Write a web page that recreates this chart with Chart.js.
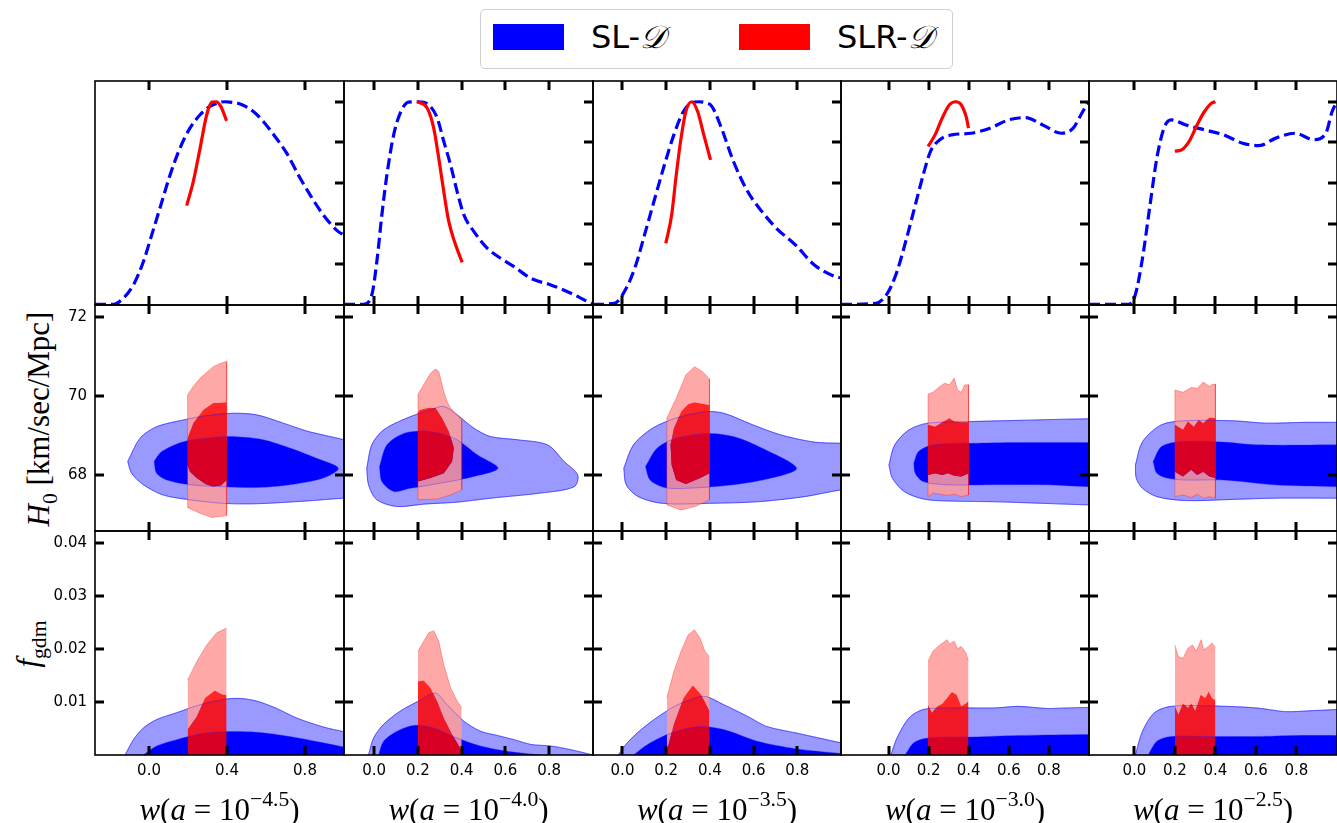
<!DOCTYPE html>
<html>
<head>
<meta charset="utf-8">
<script src="https://cdn.jsdelivr.net/npm/chart.js@4.4.1/dist/chart.umd.min.js"></script>
<style>
  html, body { margin: 0; padding: 0; background: #fff; }
  body { position: relative; width: 1337px; height: 823px; overflow: hidden; font-family: 'DejaVu Sans', sans-serif; }
  canvas { position: absolute; }
  .legend { position: absolute; left: 480px; top: 9px; width: 473px; height: 60px; box-sizing: border-box;
            border: 1.5px solid #cfcfcf; border-radius: 5px; background: #fff; }
  .legend .sw { position: absolute; top: 14px; width: 71px; height: 26px; }
  .legend .tx { position: absolute; top: 7px; font-size: 32px; line-height: 40px; color: #000; white-space: nowrap; }
  .mathD { font-family: 'DejaVu Serif', serif; font-style: italic; }
  .xt { position: absolute; top: 784px; transform: translateX(-50%); font-family: 'Liberation Serif', serif;
        font-size: 31px; line-height: 36px; white-space: nowrap; color: #000; }
  .xt sup { font-size: 0.7em; position: relative; top: -0.12em; }
  .yt { position: absolute; font-family: 'Liberation Serif', serif; font-size: 31px; white-space: nowrap; color: #000;
        transform: translate(-50%, -50%) rotate(-90deg); }
  .yt sub { font-size: 0.7em; }
</style>
</head>
<body>
<div class="legend">
  <div class="sw" style="left:12px;background:#0000ff"></div>
  <div class="tx" style="left:110px">SL-<span class="mathD">𝒟</span></div>
  <div class="sw" style="left:258px;background:#ff0000"></div>
  <div class="tx" style="left:356px">SLR-<span class="mathD">𝒟</span></div>
</div>
<div class="yt" style="left:42px;top:419px"><i>H</i><sub>0</sub> [km/sec/Mpc]</div>
<div class="yt" style="left:31px;top:644px"><i>f</i><sub>gdm</sub></div>

<script>
// axis limits and ticks, one entry per column
const X_MIN = [-0.277, -0.138, -0.135, -0.237, -0.224];
const X_MAX = 1.0;
const X_TICKS = [
  [0, 0.4, 0.8],
  [0, 0.2, 0.4, 0.6, 0.8],
  [0, 0.2, 0.4, 0.6, 0.8],
  [0, 0.2, 0.4, 0.6, 0.8],
  [0, 0.2, 0.4, 0.6, 0.8]
];
const A_EXP = ['−4.5', '−4.0', '−3.5', '−3.0', '−2.5'];

const PDF_RANGE = [0, 1.102];
const PDF_TICKS = [0.2, 0.4, 0.6, 0.8, 1.0];
const H0_RANGE = [66.58, 72.30];
const H0_TICKS = [68, 70, 72];
const F_RANGE = [0, 0.04236];
const F_TICKS = [0.01, 0.02, 0.03, 0.04];

// 1D posteriors (top row)
const SL_PDF = [
  [[-0.277,0.003],[-0.183,0.003],[-0.132,0.033],[-0.080,0.099],[-0.029,0.213],[0.014,0.345],[0.056,0.476],[0.108,0.640],[0.159,0.772],[0.210,0.870],[0.262,0.936],[0.313,0.977],[0.364,0.997],[0.39,1.0],[0.415,0.998],[0.467,0.989],[0.535,0.952],[0.586,0.903],[0.646,0.829],[0.706,0.747],[0.766,0.640],[0.826,0.542],[0.894,0.443],[0.971,0.361],[1.0,0.345]],
  [[-0.138,0.003],[-0.049,0.003],[-0.011,0.049],[0.012,0.213],[0.035,0.443],[0.058,0.640],[0.089,0.837],[0.119,0.944],[0.157,0.998],[0.203,1.0],[0.249,0.985],[0.288,0.920],[0.318,0.805],[0.349,0.690],[0.379,0.558],[0.410,0.443],[0.456,0.361],[0.517,0.279],[0.578,0.230],[0.639,0.189],[0.716,0.131],[0.807,0.099],[0.899,0.058],[1.0,0.003]],
  [[-0.135,0.003],[-0.037,0.008],[0.017,0.082],[0.061,0.197],[0.105,0.361],[0.148,0.525],[0.192,0.690],[0.235,0.837],[0.279,0.952],[0.322,0.997],[0.35,1.0],[0.38,0.995],[0.409,0.977],[0.453,0.870],[0.508,0.706],[0.573,0.558],[0.638,0.460],[0.704,0.378],[0.791,0.296],[0.878,0.197],[0.976,0.139],[1.0,0.134]],
  [[-0.237,0.003],[-0.064,0.008],[-0.005,0.058],[0.042,0.164],[0.090,0.328],[0.138,0.509],[0.173,0.640],[0.209,0.755],[0.256,0.813],[0.316,0.837],[0.411,0.845],[0.506,0.870],[0.600,0.911],[0.684,0.922],[0.767,0.887],[0.862,0.845],[0.921,0.870],[0.969,0.952],[1.0,1.0]],
  [[-0.224,0.003],[-0.031,0.003],[0.004,0.049],[0.040,0.230],[0.075,0.476],[0.111,0.723],[0.146,0.870],[0.181,0.911],[0.251,0.887],[0.346,0.862],[0.440,0.837],[0.534,0.796],[0.616,0.784],[0.698,0.821],[0.793,0.845],[0.886,0.813],[0.945,0.845],[0.976,0.952],[1.0,1.0]]
];
const SLR_PDF = [
  [[0.193,0.489],[0.227,0.607],[0.262,0.772],[0.296,0.936],[0.322,0.998],[0.344,1.0],[0.368,0.977],[0.398,0.906]],
  [[0.196,1.0],[0.242,0.969],[0.272,0.870],[0.295,0.723],[0.318,0.558],[0.341,0.410],[0.372,0.296],[0.402,0.210]],
  [[0.198,0.303],[0.225,0.443],[0.246,0.640],[0.268,0.821],[0.290,0.952],[0.316,1.0],[0.344,0.952],[0.372,0.837],[0.403,0.714]],
  [[0.197,0.780],[0.232,0.837],[0.268,0.920],[0.304,0.985],[0.335,1.0],[0.363,0.985],[0.387,0.928],[0.399,0.870]],
  [[0.200,0.755],[0.240,0.768],[0.275,0.813],[0.310,0.887],[0.346,0.952],[0.381,0.993],[0.400,1.0]]
];

// H0 contours (middle row), closed outlines
const SL_H0_95 = [
  [[-0.109,68.34],[-0.046,68.93],[0.039,69.22],[0.176,69.39],[0.296,69.50],[0.432,69.56],[0.552,69.52],[0.689,69.31],[0.809,69.11],[0.894,69.01],[1.0,68.89],[1.03,68.85],[1.03,67.40],[1.0,67.41],[0.809,67.34],[0.552,67.27],[0.381,67.28],[0.210,67.37],[0.073,67.49],[-0.029,67.75],[-0.089,68.04],[-0.109,68.34]],
  [[-0.034,68.17],[-0.011,68.76],[0.043,69.14],[0.150,69.44],[0.257,69.65],[0.318,69.73],[0.379,69.52],[0.456,69.18],[0.532,68.97],[0.654,68.89],[0.792,68.76],[0.868,68.34],[0.930,68.0],[0.914,67.70],[0.761,67.54],[0.532,67.41],[0.379,67.31],[0.226,67.26],[0.104,67.20],[0.012,67.37],[-0.026,67.75],[-0.034,68.17]],
  [[0.006,68.17],[0.050,68.76],[0.137,69.18],[0.246,69.44],[0.377,69.60],[0.464,69.56],[0.595,69.27],[0.726,69.01],[0.878,68.83],[1.0,68.80],[1.03,68.80],[1.03,67.60],[1.0,67.62],[0.834,67.45],[0.617,67.32],[0.398,67.28],[0.181,67.28],[0.072,67.45],[0.017,67.75],[0.006,68.17]],
  [[0.002,68.25],[0.031,68.76],[0.102,69.14],[0.197,69.31],[0.411,69.35],[0.648,69.38],[0.886,69.41],[1.0,69.42],[1.03,69.42],[1.03,67.24],[1.0,67.24],[0.767,67.28],[0.530,67.32],[0.292,67.34],[0.173,67.39],[0.078,67.58],[0.019,67.92],[0.002,68.25]],
  [[0.005,68.25],[0.040,68.84],[0.134,69.27],[0.251,69.37],[0.487,69.37],[0.651,69.31],[0.840,69.33],[1.0,69.33],[1.03,69.33],[1.03,67.41],[1.0,67.41],[0.687,67.41],[0.487,67.38],[0.251,67.35],[0.111,67.45],[0.040,67.66],[0.009,67.92],[0.005,68.25]]
];
const SL_H0_68 = [
  [[0.026,68.34],[0.065,68.59],[0.176,68.84],[0.313,68.94],[0.432,68.97],[0.586,68.89],[0.723,68.68],[0.860,68.42],[0.971,68.17],[0.894,67.92],[0.723,67.75],[0.552,67.68],[0.381,67.70],[0.210,67.75],[0.091,67.87],[0.039,68.04],[0.026,68.34]],
  [[0.024,68.21],[0.058,68.76],[0.135,69.05],[0.226,69.11],[0.303,69.05],[0.379,68.89],[0.471,68.51],[0.566,68.17],[0.456,67.96],[0.303,67.79],[0.165,67.66],[0.089,67.58],[0.035,67.83],[0.024,68.21]],
  [[0.105,68.21],[0.159,68.68],[0.246,68.93],[0.398,69.05],[0.508,68.97],[0.638,68.68],[0.797,68.17],[0.682,67.92],[0.508,67.75],[0.290,67.66],[0.192,67.68],[0.126,67.87],[0.105,68.21]],
  [[0.126,68.30],[0.150,68.59],[0.221,68.76],[0.411,68.80],[0.648,68.82],[1.0,68.82],[1.03,68.82],[1.03,67.70],[1.0,67.70],[0.767,67.75],[0.530,67.75],[0.292,67.75],[0.173,67.83],[0.133,68.04],[0.126,68.30]],
  [[0.092,68.34],[0.134,68.72],[0.228,68.84],[0.440,68.83],[0.604,68.76],[1.0,68.76],[1.03,68.76],[1.03,67.70],[1.0,67.70],[0.687,67.75],[0.440,67.87],[0.251,67.87],[0.160,67.92],[0.111,68.04],[0.092,68.34]]
];
const SLR_H0_95 = [
  [[0.198,70.03],[0.227,70.24],[0.262,70.45],[0.330,70.74],[0.364,70.82],[0.398,70.87],[0.398,66.97],[0.322,66.92],[0.262,67.03],[0.198,67.17],[0.198,70.03]],
  [[0.200,70.04],[0.226,70.28],[0.257,70.57],[0.280,70.68],[0.295,70.62],[0.303,70.45],[0.318,70.11],[0.333,69.86],[0.349,69.69],[0.379,69.52],[0.400,69.39],[0.400,67.62],[0.349,67.49],[0.287,67.39],[0.200,67.37],[0.200,70.04]],
  [[0.203,69.44],[0.246,69.94],[0.290,70.53],[0.329,70.74],[0.366,70.62],[0.398,70.43],[0.398,67.37],[0.333,67.20],[0.268,67.11],[0.203,67.24],[0.203,69.44]],
  [[0.197,70.04],[0.221,70.09],[0.256,70.24],[0.280,70.32],[0.304,70.28],[0.328,70.45],[0.344,70.15],[0.363,70.09],[0.380,70.28],[0.399,70.28],[0.399,67.49],[0.363,67.45],[0.328,67.51],[0.292,67.48],[0.256,67.51],[0.221,67.54],[0.197,67.45],[0.197,70.04]],
  [[0.200,70.15],[0.240,70.09],[0.280,70.21],[0.310,70.19],[0.340,70.35],[0.370,70.24],[0.381,70.28],[0.400,70.30],[0.400,67.41],[0.370,67.45],[0.340,67.41],[0.310,67.51],[0.280,67.43],[0.240,67.49],[0.200,67.45],[0.200,70.15]]
];
const SLR_H0_68 = [
  [[0.198,68.93],[0.227,69.31],[0.279,69.65],[0.330,69.82],[0.398,69.83],[0.398,67.87],[0.370,67.74],[0.330,67.70],[0.290,67.77],[0.245,67.92],[0.210,68.08],[0.198,68.25],[0.198,68.93]],
  [[0.200,69.60],[0.211,69.65],[0.249,69.70],[0.280,69.69],[0.310,69.44],[0.341,69.10],[0.364,68.68],[0.356,68.34],[0.318,68.04],[0.257,67.92],[0.200,67.83],[0.200,69.60]],
  [[0.329,69.84],[0.398,69.77],[0.398,68.04],[0.355,67.92],[0.290,67.77],[0.246,67.87],[0.225,68.25],[0.220,68.76],[0.235,69.18],[0.268,69.60],[0.300,69.79],[0.329,69.84]],
  [[0.197,69.27],[0.232,69.22],[0.268,69.33],[0.304,69.44],[0.328,69.35],[0.363,69.33],[0.399,69.33],[0.399,68.04],[0.363,67.96],[0.328,67.98],[0.297,68.04],[0.268,68.0],[0.232,68.04],[0.197,68.0],[0.197,69.27]],
  [[0.200,69.27],[0.240,69.14],[0.264,69.35],[0.293,69.22],[0.317,69.39],[0.340,69.31],[0.370,69.45],[0.400,69.44],[0.400,67.92],[0.370,67.96],[0.340,68.08],[0.310,68.0],[0.280,68.13],[0.240,67.96],[0.200,68.08],[0.200,69.27]]
];

// f_gdm upper edges (bottom row)
const SL_F_95 = [
  [[-0.123,0],[-0.080,0.0029],[-0.029,0.0051],[0.039,0.0067],[0.142,0.0080],[0.262,0.0095],[0.381,0.0105],[0.467,0.0107],[0.552,0.0102],[0.655,0.0088],[0.757,0.0070],[0.894,0.0053],[1.0,0.0044]],
  [[-0.026,0],[-0.003,0.0032],[0.043,0.0058],[0.119,0.0083],[0.203,0.0102],[0.280,0.0117],[0.333,0.0095],[0.410,0.0064],[0.486,0.0045],[0.563,0.0037],[0.639,0.0029],[0.716,0.0020],[0.807,0.0017],[0.899,0.0010],[1.0,0]],
  [[-0.020,0],[0.028,0.0026],[0.115,0.0058],[0.225,0.0089],[0.312,0.0105],[0.377,0.0111],[0.464,0.0095],[0.573,0.0073],[0.660,0.0054],[0.791,0.0042],[1.0,0.0023]],
  [[0.012,0],[0.042,0.0032],[0.102,0.0070],[0.173,0.0086],[0.292,0.0089],[0.530,0.0089],[0.648,0.0092],[0.791,0.0088],[0.886,0.0089],[1.0,0.0090]],
  [[0.005,0],[0.040,0.0045],[0.099,0.0080],[0.181,0.0092],[0.369,0.0093],[0.604,0.0089],[0.745,0.0082],[0.886,0.0084],[1.0,0.0086]]
];
const SL_F_68 = [
  [[-0.029,0],[0.039,0.0017],[0.142,0.0029],[0.262,0.0040],[0.381,0.0044],[0.552,0.0043],[0.723,0.0035],[0.894,0.0023],[1.0,0.0015]],
  [[0.020,0],[0.043,0.0026],[0.104,0.0045],[0.180,0.0056],[0.272,0.0051],[0.379,0.0032],[0.486,0.0017],[0.609,0.0007],[0.761,0]],
  [[0.050,0],[0.115,0.0020],[0.225,0.0042],[0.355,0.0054],[0.464,0.0048],[0.617,0.0026],[0.791,0.0012],[1.0,0.0003]],
  [[0.083,0],[0.126,0.0023],[0.197,0.0032],[0.411,0.0034],[0.648,0.0037],[1.0,0.0039]],
  [[0.068,0],[0.111,0.0026],[0.181,0.0035],[0.369,0.0035],[0.604,0.0035],[0.793,0.0037],[1.0,0.0037]]
];
const SLR_F_95 = [
  [[0.198,0.0142],[0.245,0.0177],[0.296,0.0208],[0.347,0.0231],[0.398,0.0240]],
  [[0.200,0.0196],[0.226,0.0215],[0.249,0.0231],[0.272,0.0235],[0.295,0.0215],[0.318,0.0171],[0.349,0.0127],[0.379,0.0102],[0.400,0.0089]],
  [[0.203,0.0108],[0.235,0.0158],[0.268,0.0196],[0.300,0.0227],[0.329,0.0237],[0.355,0.0221],[0.377,0.0196],[0.398,0.0186]],
  [[0.197,0.0177],[0.221,0.0196],[0.256,0.0208],[0.292,0.0218],[0.304,0.0210],[0.328,0.0215],[0.344,0.0201],[0.363,0.0205],[0.387,0.0193],[0.399,0.0177]],
  [[0.200,0.0208],[0.217,0.0186],[0.240,0.0183],[0.264,0.0202],[0.287,0.0208],[0.305,0.0196],[0.329,0.0218],[0.343,0.0199],[0.366,0.0205],[0.383,0.0212],[0.400,0.0203]]
];
const SLR_F_68 = [
  [[0.198,0.0048],[0.245,0.0073],[0.287,0.0108],[0.338,0.0122],[0.373,0.0115],[0.398,0.0113]],
  [[0.200,0.0139],[0.226,0.0141],[0.257,0.0127],[0.287,0.0102],[0.318,0.0070],[0.356,0.0039],[0.387,0.0017],[0.400,0.0007]],
  [[0.203,0.0007],[0.235,0.0058],[0.279,0.0108],[0.322,0.0132],[0.360,0.0114],[0.398,0.0083]],
  [[0.197,0.0095],[0.216,0.0080],[0.244,0.0092],[0.268,0.0097],[0.292,0.0108],[0.316,0.0119],[0.340,0.0114],[0.363,0.0092],[0.387,0.0098],[0.399,0.0102]],
  [[0.200,0.0092],[0.217,0.0076],[0.240,0.0098],[0.264,0.0089],[0.281,0.0098],[0.300,0.0083],[0.327,0.0114],[0.350,0.0108],[0.366,0.0120],[0.383,0.0108],[0.400,0.0103]]
];

// page layout (pixels)
const COL_EDGES = [95, 344, 593, 841, 1089, 1337];
const ROW_EDGES = [81, 305, 531, 755];
const PAGE_H = 823;
const PAD = 3;
const TICK = 9;

Chart.defaults.font.family = "'DejaVu Sans', sans-serif";
Chart.defaults.font.size = 15;
Chart.defaults.color = '#000';

const pts = arr => arr.map(([x, y]) => ({ x, y }));

function area(p) {
  let s = 0;
  for (let i = 0; i < p.length - 1; i++) s += p[i][0] * p[i + 1][1] - p[i + 1][0] * p[i][1];
  return s;
}
// outer outline followed by the inner one wound the other way -> a ring with a hole
function ring(outer, inner) {
  const inn = area(outer) * area(inner) > 0 ? inner.slice().reverse() : inner;
  return outer.concat(inn);
}

function pdfLine(arr, color, dashed) {
  return {
    data: pts(arr), borderColor: color, borderWidth: 3.2, borderDash: dashed ? [11, 5] : [],
    fill: false, pointRadius: 0, cubicInterpolationMode: 'monotone', clip: 0
  };
}

function region(arr, fillColor, lineColor, lw, tension, fill) {
  return {
    data: pts(arr), backgroundColor: fillColor, borderColor: lineColor, borderWidth: lw,
    fill: fill, pointRadius: 0, tension: tension, clip: 0
  };
}

// inward tick marks and the panel frame
const frame = {
  id: 'frame',
  afterDatasetsDraw(chart, args, o) {
    const { ctx, chartArea: a } = chart;
    const xs = chart.scales.x, ys = chart.scales.y;
    ctx.save();
    ctx.strokeStyle = '#000';
    ctx.lineWidth = 3;
    ctx.beginPath();
    o.xTicks.forEach(v => {
      const px = Math.round(xs.getPixelForValue(v));
      ctx.moveTo(px, a.top); ctx.lineTo(px, a.top + TICK);
      ctx.moveTo(px, a.bottom); ctx.lineTo(px, a.bottom - TICK);
    });
    o.yTicks.forEach(v => {
      const py = Math.round(ys.getPixelForValue(v));
      if (o.left) { ctx.moveTo(a.left, py); ctx.lineTo(a.left + TICK, py); }
      ctx.moveTo(a.right, py); ctx.lineTo(a.right - TICK, py);
    });
    ctx.stroke();
    ctx.lineWidth = 1.6;
    ctx.strokeRect(a.left, a.top, a.right - a.left, a.bottom - a.top);
    ctx.restore();
  }
};

function makePanel(col, row, datasets, yRange, yTicks, yFmt) {
  const L = COL_EDGES[col], R = COL_EDGES[col + 1];
  const T = ROW_EDGES[row], B = ROW_EDGES[row + 1];
  const showY = col === 0 && row > 0;
  const showX = row === 2;
  const cl = showY ? 0 : L - PAD;
  const ct = T - PAD;
  const cr = R + PAD;
  const cb = showX ? PAGE_H : B + PAD;

  const canvas = document.createElement('canvas');
  canvas.width = cr - cl;
  canvas.height = cb - ct;
  canvas.style.left = cl + 'px';
  canvas.style.top = ct + 'px';
  canvas.style.width = (cr - cl) + 'px';
  canvas.style.height = (cb - ct) + 'px';
  document.body.appendChild(canvas);

  const n = datasets.length;
  datasets.forEach((d, i) => { d.order = n - i; });

  new Chart(canvas, {
    type: 'line',
    data: { datasets },
    options: {
      responsive: false,
      animation: false,
      events: [],
      layout: { padding: { left: showY ? 0 : PAD, right: PAD, top: PAD, bottom: showX ? 0 : PAD } },
      plugins: {
        legend: { display: false },
        tooltip: { enabled: false },
        frame: { xTicks: X_TICKS[col], yTicks: yTicks, left: row > 0 }
      },
      scales: {
        x: {
          type: 'linear', min: X_MIN[col], max: X_MAX, display: showX,
          grid: { display: false, drawTicks: false }, border: { display: false },
          ticks: { padding: 7, maxRotation: 0, autoSkip: false, callback: v => v.toFixed(1) },
          afterBuildTicks: s => { s.ticks = X_TICKS[col].map(v => ({ value: v })); },
          afterFit: s => {
            if (showX) s.height = PAGE_H - B;
            s.paddingLeft = 0; s.paddingRight = 0;
          }
        },
        y: {
          type: 'linear', min: yRange[0], max: yRange[1], display: showY,
          grid: { display: false, drawTicks: false }, border: { display: false },
          ticks: { padding: 8, autoSkip: false, callback: yFmt },
          afterBuildTicks: s => { s.ticks = yTicks.map(v => ({ value: v })); },
          afterFit: s => {
            if (showY) s.width = L;
            s.paddingTop = 0; s.paddingBottom = 0;
          }
        }
      }
    },
    plugins: [frame]
  });
}

const BLUE_LIGHT = 'rgba(0,0,255,0.4)', BLUE_EDGE = 'rgba(0,0,255,0.45)', BLUE_THIN = 'rgba(40,40,255,0.35)';
const RED_LIGHT = 'rgba(255,155,155,0.87)', RED_EDGE = 'rgba(255,0,0,0.3)';
const RED_DARK = 'rgba(255,0,0,0.85)';

for (let c = 0; c < 5; c++) {
  makePanel(c, 0, [
    pdfLine(SL_PDF[c], '#0000ff', true),
    pdfLine(SLR_PDF[c], '#ff0000', false)
  ], PDF_RANGE, PDF_TICKS, v => v);

  makePanel(c, 1, [
    region(SL_H0_95[c], BLUE_LIGHT, BLUE_EDGE, 1, 0.3, 'shape'),
    region(SL_H0_68[c], '#0000ff', 'transparent', 0, 0.3, 'shape'),
    region(ring(SLR_H0_95[c], SLR_H0_68[c]), RED_LIGHT, 'transparent', 0, 0, 'shape'),
    region(SLR_H0_95[c], 'transparent', RED_EDGE, 1, 0, false),
    region(SLR_H0_68[c], RED_DARK, 'transparent', 0, 0, 'shape'),
    region(SL_H0_95[c], 'transparent', BLUE_THIN, 1, 0.3, false),
    region(SL_H0_68[c], 'transparent', BLUE_THIN, 1, 0.3, false)
  ], H0_RANGE, H0_TICKS, v => String(v));

  makePanel(c, 2, [
    region(SL_F_95[c], BLUE_LIGHT, BLUE_EDGE, 1, 0.3, 'origin'),
    region(SL_F_68[c], '#0000ff', 'transparent', 0, 0.3, 'origin'),
    region(SLR_F_95[c], RED_LIGHT, RED_EDGE, 1, 0, '+1'),
    region(SLR_F_68[c], RED_DARK, 'transparent', 0, 0, 'origin'),
    region(SL_F_95[c], 'transparent', BLUE_THIN, 1, 0.3, false),
    region(SL_F_68[c], 'transparent', BLUE_THIN, 1, 0.3, false)
  ], F_RANGE, F_TICKS, v => v.toFixed(2));

  const t = document.createElement('div');
  t.className = 'xt';
  t.style.left = ((COL_EDGES[c] + COL_EDGES[c + 1]) / 2) + 'px';
  t.innerHTML = '<i>w</i>(<i>a</i> = 10<sup>' + A_EXP[c] + '</sup>)';
  document.body.appendChild(t);
}
</script>
</body>
</html>
